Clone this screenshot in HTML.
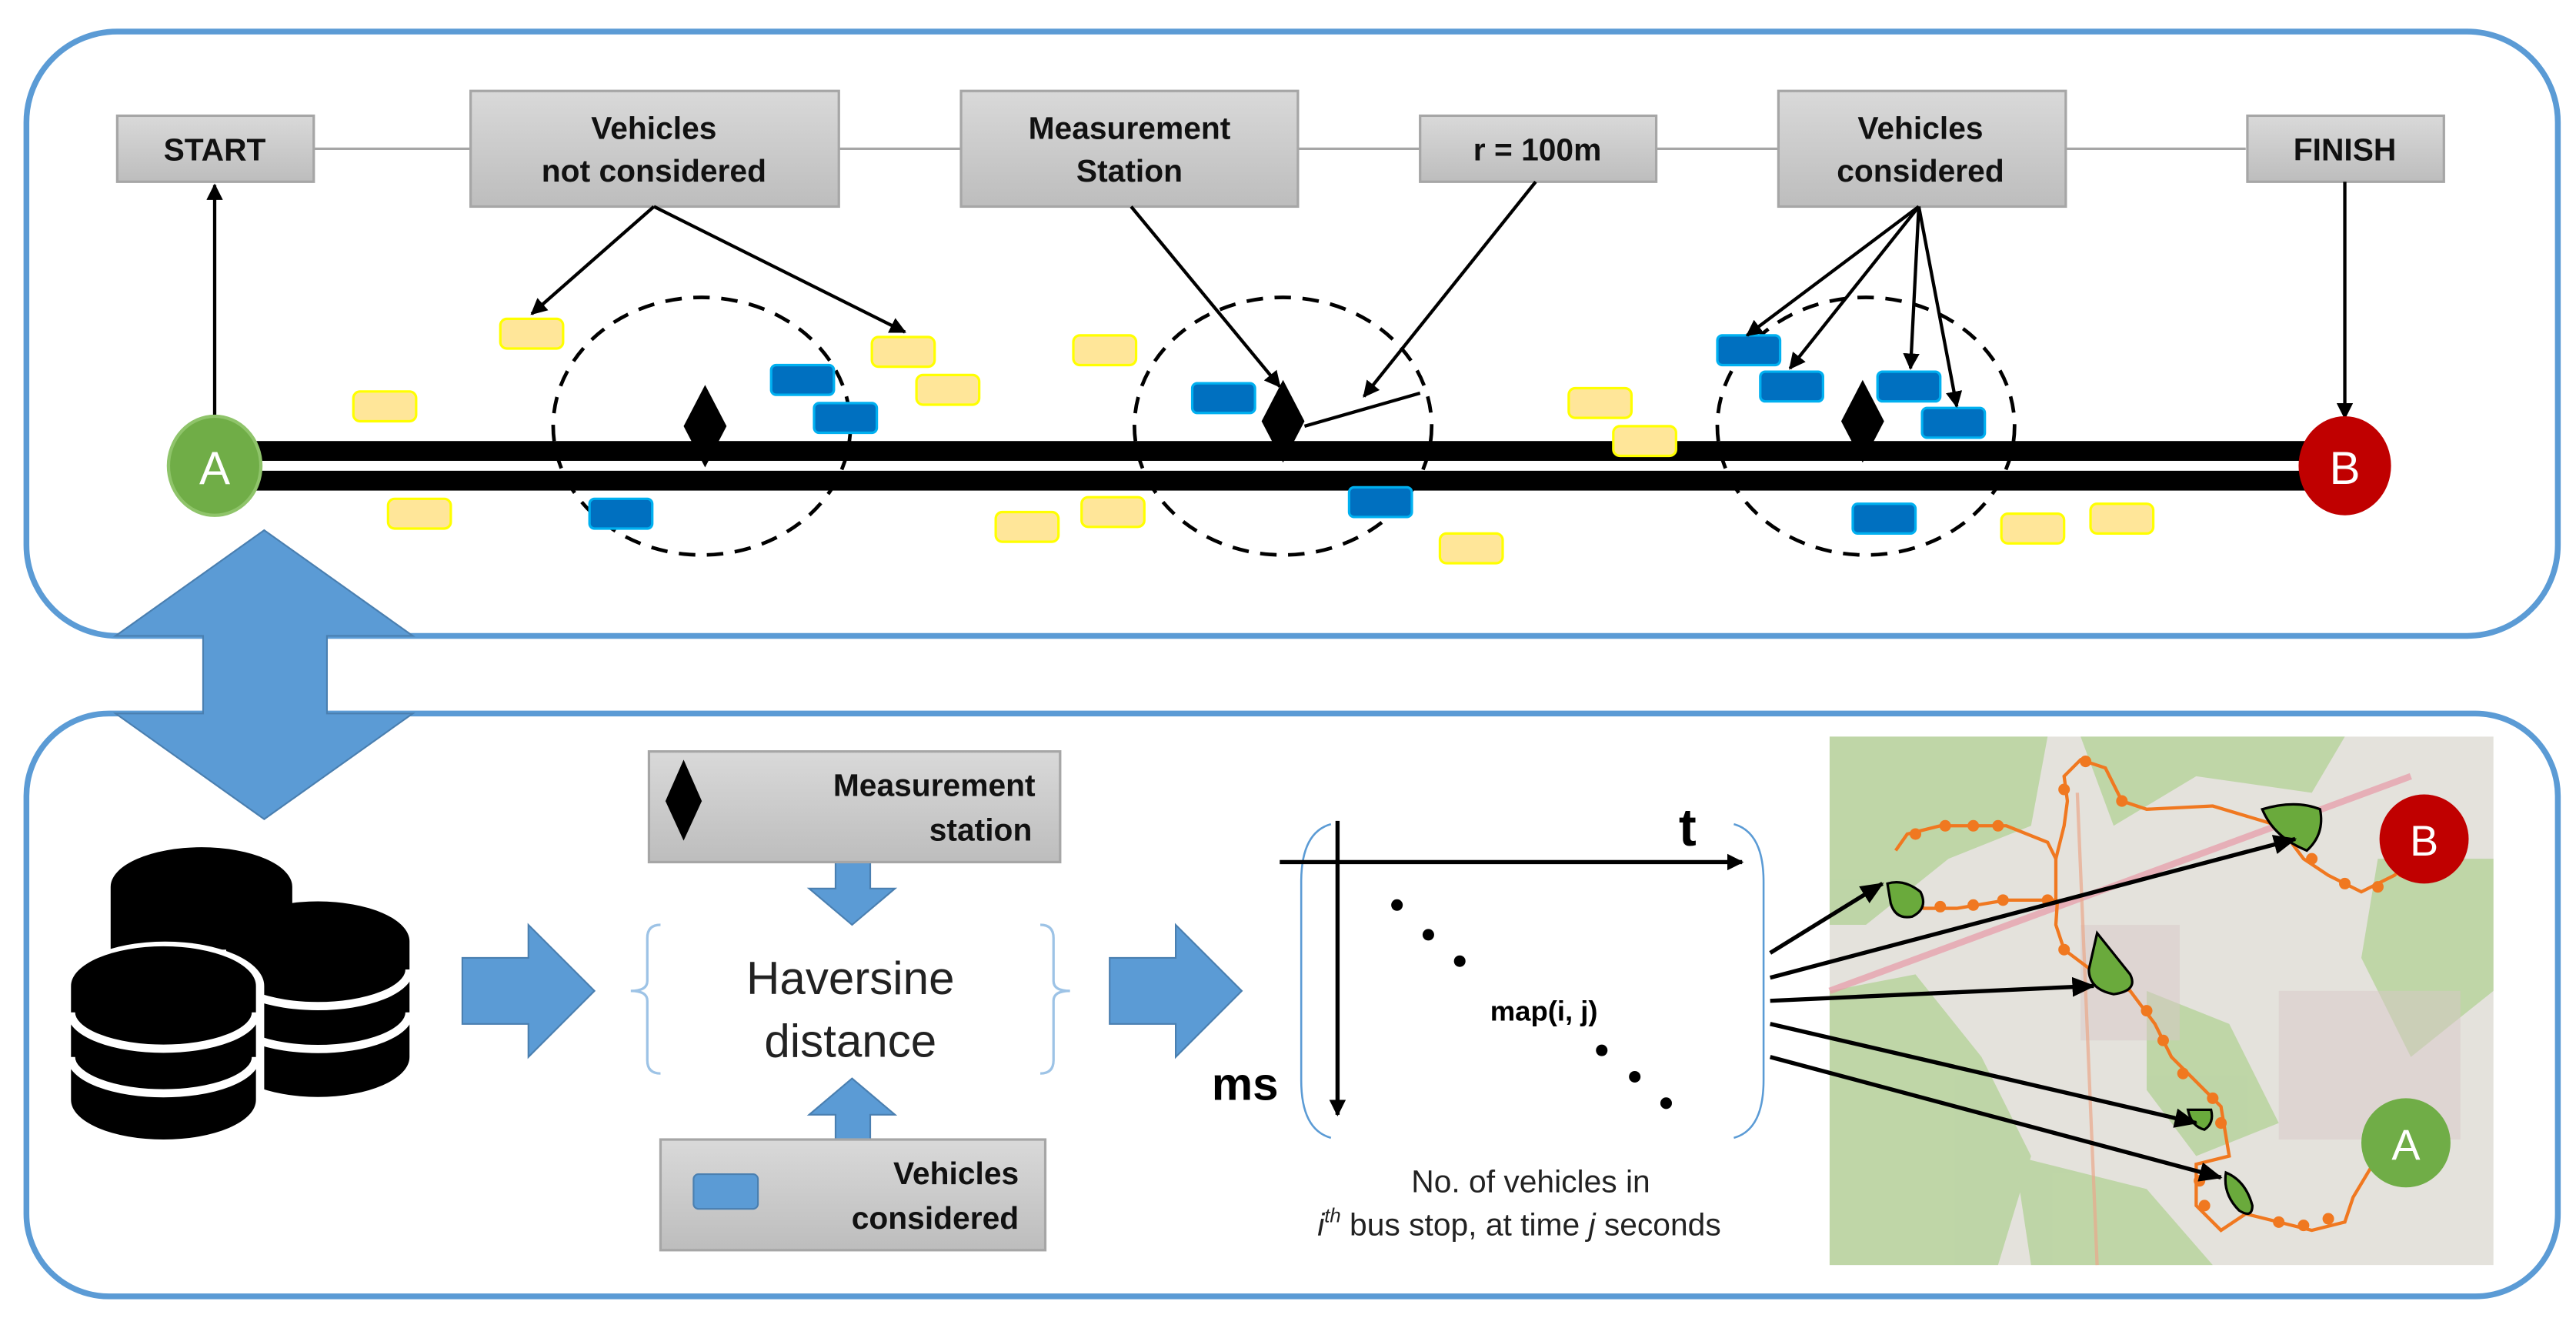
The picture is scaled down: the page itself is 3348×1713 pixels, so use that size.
<!DOCTYPE html>
<html><head><meta charset="utf-8"><style>
html,body{margin:0;padding:0;background:#fff;}
svg{display:block;}
text{font-family:"Liberation Sans",sans-serif;}
</style></head><body>
<svg width="3348" height="1713" viewBox="0 0 1560 798" xmlns="http://www.w3.org/2000/svg">
<defs>
<linearGradient id="g" x1="0" y1="0" x2="0" y2="1"><stop offset="0" stop-color="#d9d9d9"/><stop offset="1" stop-color="#bdbdbd"/></linearGradient>
<marker id="ah" markerWidth="10" markerHeight="10" refX="9" refY="5" orient="auto" markerUnits="userSpaceOnUse"><path d="M0,0 L10,5 L0,10 z" fill="#000"/></marker>
<marker id="ah2" markerWidth="14" markerHeight="12" refX="13" refY="6" orient="auto" markerUnits="userSpaceOnUse"><path d="M0,0 L14,6 L0,12 z" fill="#000"/></marker>
<g id="yc"><rect x="0" y="0" width="38" height="18" rx="4" fill="#ffe699" stroke="#ffff00" stroke-width="1.5"/></g>
<g id="bc"><rect x="0" y="0" width="38" height="18" rx="3" fill="#0070c0" stroke="#00b0f0" stroke-width="1.5"/></g>
<g id="dm"><path d="M0,-25 L13,0 L0,25 L-13,0 z" fill="#000"/></g>
</defs>

<rect x="16" y="19" width="1533" height="366" rx="55" fill="none" stroke="#5b9bd5" stroke-width="3.5"/>
<rect x="16" y="432" width="1533" height="353" rx="50" fill="none" stroke="#5b9bd5" stroke-width="3.5"/>

<path d="M160,321 L250,385 L198,385 L198,432 L250,432 L160,496 L70,432 L123,432 L123,385 L70,385 z" fill="#5b9bd5" stroke="#4a7fb0" stroke-width="1"/>

<line x1="190" y1="90" x2="1360" y2="90" stroke="#a6a6a6" stroke-width="1.5"/>

<g stroke="#a6a6a6" stroke-width="1.5" fill="url(#g)">
<rect x="71" y="70" width="119" height="40"/>
<rect x="285" y="55" width="223" height="70"/>
<rect x="582" y="55" width="204" height="70"/>
<rect x="860" y="70" width="143" height="40"/>
<rect x="1077" y="55" width="174" height="70"/>
<rect x="1361" y="70" width="119" height="40"/>
</g>
<g font-weight="bold" font-size="19" text-anchor="middle" fill="#111">
<text x="130" y="97">START</text>
<text x="396" y="84">Vehicles</text><text x="396" y="110">not considered</text>
<text x="684" y="84">Measurement</text><text x="684" y="110">Station</text>
<text x="931" y="97">r = 100m</text>
<text x="1163" y="84">Vehicles</text><text x="1163" y="110">considered</text>
<text x="1420" y="97">FINISH</text>
</g>

<rect x="140" y="267" width="1270" height="12" fill="#000"/>
<rect x="140" y="285" width="1270" height="12" fill="#000"/>

<g fill="none" stroke="#000" stroke-width="2.2" stroke-dasharray="10,7">
<ellipse cx="425" cy="258" rx="90" ry="78"/>
<ellipse cx="777" cy="258" rx="90" ry="78"/>
<ellipse cx="1130" cy="258" rx="90" ry="78"/>
</g>
<use href="#dm" x="427" y="258"/>
<use href="#dm" x="777" y="255"/>
<use href="#dm" x="1128" y="255"/>
<line x1="790" y1="258" x2="860" y2="238" stroke="#000" stroke-width="2"/>

<use href="#yc" x="303" y="193"/><use href="#yc" x="528" y="204"/><use href="#yc" x="555" y="227"/>
<use href="#yc" x="214" y="237"/><use href="#yc" x="235" y="302"/><use href="#yc" x="650" y="203"/>
<use href="#yc" x="603" y="310"/><use href="#yc" x="655" y="301"/><use href="#yc" x="872" y="323"/>
<use href="#yc" x="950" y="235"/><use href="#yc" x="977" y="258"/><use href="#yc" x="1212" y="311"/>
<use href="#yc" x="1266" y="305"/>
<use href="#bc" x="467" y="221"/><use href="#bc" x="493" y="244"/><use href="#bc" x="357" y="302"/>
<use href="#bc" x="722" y="232"/><use href="#bc" x="817" y="295"/><use href="#bc" x="1040" y="203"/>
<use href="#bc" x="1066" y="225"/><use href="#bc" x="1137" y="225"/><use href="#bc" x="1164" y="247"/>
<use href="#bc" x="1122" y="305"/>

<g stroke="#000" stroke-width="2" marker-end="url(#ah)" fill="none">
<line x1="130" y1="255" x2="130" y2="112"/>
<line x1="1420" y1="110" x2="1420" y2="253"/>
<line x1="396" y1="125" x2="322" y2="190"/>
<line x1="396" y1="125" x2="548" y2="201"/>
<line x1="685" y1="125" x2="775" y2="234"/>
<line x1="930" y1="110" x2="826" y2="240"/>
<line x1="1162" y1="125" x2="1058" y2="203"/>
<line x1="1162" y1="125" x2="1084" y2="223"/>
<line x1="1162" y1="125" x2="1157" y2="223"/>
<line x1="1162" y1="125" x2="1185" y2="246"/>
</g>

<ellipse cx="130" cy="282" rx="28" ry="30" fill="#70ad47" stroke="#8fc46a" stroke-width="2"/>
<text x="130" y="293" font-size="28" fill="#fff" text-anchor="middle">A</text>
<ellipse cx="1420" cy="282" rx="28" ry="30" fill="#c00000"/>
<text x="1420" y="293" font-size="28" fill="#fff" text-anchor="middle">B</text>

<g>
<path d="M67,537 a55,24 0 0 1 110,0 L177,548 L140,575 L67,575 z" fill="#000"/>
<path d="M137,570 a55,24 0 0 1 111,0 L248,640 a55,24 0 0 1 -111,0 z" fill="#000"/>
<path d="M137,587 a55,22 0 0 0 111,0 M137,613 a55,22 0 0 0 111,0" stroke="#fff" stroke-width="5" fill="none"/>
<path d="M40,597 a58,26 0 0 1 120,0 L160,668 a58,26 0 0 1 -120,0 z" fill="#fff"/>
<path d="M43,597 a56,24 0 0 1 112,0 L155,666 a56,24 0 0 1 -112,0 z" fill="#000"/>
<path d="M43,613 a56,22 0 0 0 112,0 M43,640 a56,22 0 0 0 112,0" stroke="#fff" stroke-width="5" fill="none"/>
</g>

<path d="M280,580 L320,580 L320,560 L360,600 L320,640 L320,620 L280,620 z" fill="#5b9bd5" stroke="#4a7fb0"/>
<path d="M672,580 L712,580 L712,560 L752,600 L712,640 L712,620 L672,620 z" fill="#5b9bd5" stroke="#4a7fb0"/>
<path d="M506,522 L527,522 L527,538 L542,538 L516,560 L490,538 L506,538 z" fill="#5b9bd5" stroke="#4a7fb0"/>
<path d="M506,690 L527,690 L527,675 L542,675 L516,653 L490,675 L506,675 z" fill="#5b9bd5" stroke="#4a7fb0"/>

<rect x="393" y="455" width="249" height="67" fill="url(#g)" stroke="#a6a6a6" stroke-width="1.5"/>
<path d="M414,460 L425,485 L414,509 L403,485 z" fill="#000"/>
<g font-weight="bold" font-size="19" text-anchor="end" fill="#111">
<text x="627" y="482">Measurement</text><text x="625" y="509">station</text>
</g>
<rect x="400" y="690" width="233" height="67" fill="url(#g)" stroke="#a6a6a6" stroke-width="1.5"/>
<rect x="420" y="711" width="39" height="21" rx="3" fill="#5b9bd5" stroke="#4a7fb0"/>
<g font-weight="bold" font-size="19" text-anchor="end" fill="#111">
<text x="617" y="717">Vehicles</text><text x="617" y="744">considered</text>
</g>

<g fill="none" stroke="#9dc3e6" stroke-width="1.5">
<path d="M400,560 q-8,0 -8,8 l0,26 q0,6 -10,6 q10,0 10,6 l0,36 q0,8 8,8"/>
<path d="M630,560 q8,0 8,8 l0,26 q0,6 10,6 q-10,0 -10,6 l0,36 q0,8 -8,8"/>
</g>
<text x="515" y="602" font-size="28" text-anchor="middle" fill="#222">Haversine</text>
<text x="515" y="640" font-size="28" text-anchor="middle" fill="#222">distance</text>

<g fill="none" stroke="#5b9bd5" stroke-width="1.2">
<path d="M806,499 q-18,5 -18,35 l0,120 q0,30 18,35"/>
<path d="M1050,499 q18,5 18,35 l0,120 q0,30 -18,35"/>
</g>
<line x1="775" y1="522" x2="1055" y2="522" stroke="#000" stroke-width="2.5" marker-end="url(#ah)"/>
<line x1="810" y1="497" x2="810" y2="675" stroke="#000" stroke-width="2.5" marker-end="url(#ah)"/>
<text x="1022" y="512" font-size="32" font-weight="bold" text-anchor="middle">t</text>
<text x="754" y="666" font-size="28" font-weight="bold" text-anchor="middle">ms</text>
<g fill="#000"><circle cx="846" cy="548" r="3.5"/><circle cx="865" cy="566" r="3.5"/><circle cx="884" cy="582" r="3.5"/>
<circle cx="970" cy="636" r="3.5"/><circle cx="990" cy="652" r="3.5"/><circle cx="1009" cy="668" r="3.5"/></g>
<text x="935" y="618" font-size="17" font-weight="bold" text-anchor="middle">map(i, j)</text>
<text x="927" y="722" font-size="19" text-anchor="middle" fill="#222">No. of vehicles in</text>
<text x="920" y="748" font-size="19" text-anchor="middle" fill="#222"><tspan font-style="italic">i</tspan><tspan font-style="italic" font-size="12" dy="-8">th</tspan><tspan dy="8"> bus stop, at time </tspan><tspan font-style="italic">j</tspan> seconds</text>

<g>
<rect x="1108" y="446" width="402" height="320" fill="#e4e2dc"/>
<g fill="#b5d39a" opacity="0.8">
<path d="M1108,446 L1240,446 L1230,500 L1180,520 L1130,560 L1108,560 z"/>
<path d="M1260,446 L1420,446 L1400,480 L1330,470 L1280,500 z"/>
<path d="M1108,600 L1160,590 L1200,640 L1230,700 L1210,766 L1108,766 z"/>
<path d="M1300,600 L1350,620 L1380,680 L1330,700 L1300,660 z"/>
<path d="M1440,520 L1510,520 L1510,600 L1460,640 L1430,580 z"/>
<path d="M1220,700 L1300,720 L1340,766 L1230,766 z"/>
</g>
<g fill="#d8c7c7" opacity="0.5"><rect x="1380" y="600" width="110" height="90"/><rect x="1260" y="560" width="60" height="70"/></g>
<path d="M1108,600 L1460,470" stroke="#e89aa8" stroke-width="4" opacity="0.7"/>
<path d="M1258,480 L1270,766" stroke="#eaa98c" stroke-width="2" opacity="0.7"/>
<g fill="none" stroke="#f07820" stroke-width="2">
<path d="M1148,515 L1155,505 L1175,500 L1215,500 L1240,510 L1245,520 L1245,545 L1215,545 L1185,550 L1165,550 L1155,540"/>
<path d="M1245,520 L1250,500 L1252,485 L1250,470 L1260,460 L1275,465 L1285,485 L1300,490 L1340,488 L1380,500 L1395,520 L1410,530 L1430,540 L1450,530 L1462,520"/>
<path d="M1246,545 L1245,560 L1250,575 L1270,590 L1290,600 L1305,620 L1315,640 L1330,655 L1345,670 L1350,700 L1330,705 L1330,730 L1345,745 L1360,735 L1380,740 L1400,745 L1420,740 L1425,725 L1440,700"/>
</g>
<g fill="#f07820">
<circle cx="1160" cy="505" r="3.5"/><circle cx="1178" cy="500" r="3.5"/><circle cx="1195" cy="500" r="3.5"/><circle cx="1210" cy="500" r="3.5"/>
<circle cx="1175" cy="549" r="3.5"/><circle cx="1195" cy="548" r="3.5"/><circle cx="1213" cy="545" r="3.5"/><circle cx="1240" cy="545" r="3.5"/>
<circle cx="1250" cy="478" r="3.5"/><circle cx="1263" cy="461" r="3.5"/><circle cx="1285" cy="485" r="3.5"/><circle cx="1400" cy="520" r="3.5"/>
<circle cx="1420" cy="535" r="3.5"/><circle cx="1440" cy="537" r="3.5"/><circle cx="1455" cy="528" r="3.5"/>
<circle cx="1250" cy="575" r="3.5"/><circle cx="1300" cy="612" r="3.5"/><circle cx="1310" cy="630" r="3.5"/><circle cx="1322" cy="650" r="3.5"/>
<circle cx="1340" cy="665" r="3.5"/><circle cx="1345" cy="680" r="3.5"/><circle cx="1332" cy="715" r="3.5"/><circle cx="1335" cy="730" r="3.5"/>
<circle cx="1380" cy="740" r="3.5"/><circle cx="1395" cy="742" r="3.5"/><circle cx="1410" cy="738" r="3.5"/>
</g>
<g fill="#6aaa3c" stroke="#000" stroke-width="1.5">
<path d="M1143,535 q10,-3 20,5 q5,10 -5,15 q-10,2 -13,-8 z"/>
<path d="M1370,490 q20,-6 35,0 q3,15 -8,25 q-20,-8 -27,-25 z"/>
<path d="M1270,565 q12,15 20,25 q5,10 -10,12 q-15,-3 -15,-15 z"/>
<path d="M1325,672 q10,0 14,0 q2,8 -4,12 q-8,-2 -10,-12 z"/>
<path d="M1348,710 q12,5 16,20 q0,8 -8,3 q-10,-10 -8,-23 z"/>
</g>
<circle cx="1468" cy="508" r="27" fill="#c00000"/>
<text x="1468" y="518" font-size="26" fill="#fff" text-anchor="middle">B</text>
<circle cx="1457" cy="692" r="27" fill="#70ad47"/>
<text x="1457" y="702" font-size="26" fill="#fff" text-anchor="middle">A</text>
</g>
<g stroke="#000" stroke-width="2.5" marker-end="url(#ah2)" fill="none">
<line x1="1072" y1="577" x2="1140" y2="535"/>
<line x1="1072" y1="592" x2="1390" y2="508"/>
<line x1="1072" y1="606" x2="1268" y2="597"/>
<line x1="1072" y1="620" x2="1330" y2="680"/>
<line x1="1072" y1="640" x2="1345" y2="713"/>
</g>
</svg>
</body></html>
